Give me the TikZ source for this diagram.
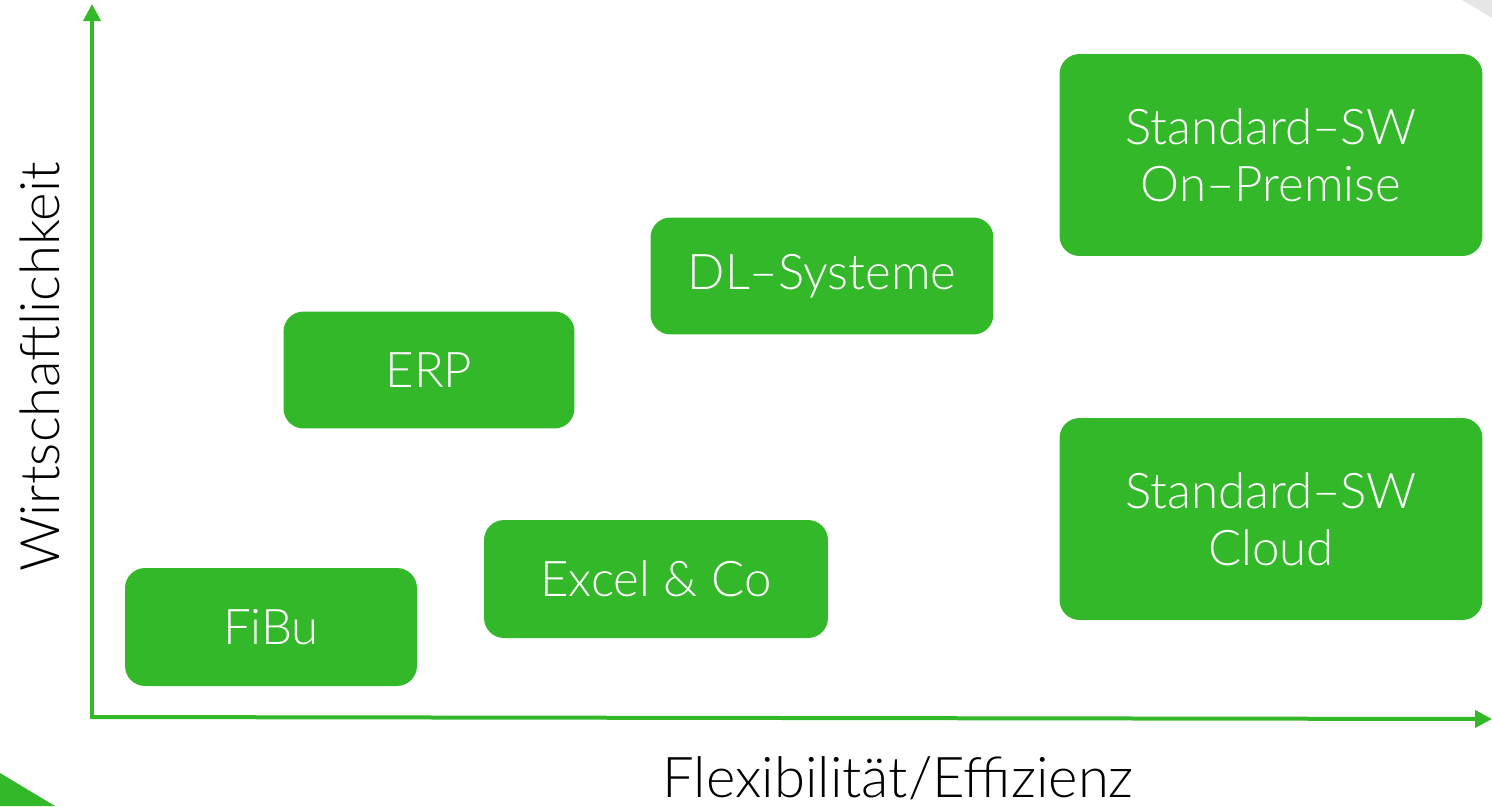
\documentclass[tikz,border=0pt]{standalone}
\usepackage{fontspec}
\setmainfont{Lato Light}
\usetikzlibrary{arrows.meta}
\definecolor{boxgreen}{HTML}{33B82A}
\definecolor{cornergray}{HTML}{E6E6E6}

\begin{document}
\begin{tikzpicture}[x=0.02cm, y=-0.02cm,
    box/.style={fill=boxgreen, text=white, rounded corners=0.4cm, align=center,
        inner sep=0pt, font=\fontsize{28}{32.5}\selectfont},
    axis/.style={draw=boxgreen, line width=0.08cm, -{Triangle[width=0.34cm, length=0.34cm]}},
    axislabel/.style={text=black, inner sep=0pt, font=\fontsize{31}{35}\selectfont}]

        \useasboundingbox (0,0) rectangle (1492,806);

        % corner decorations
        \fill[cornergray] (1462,0) -- (1492,0) -- (1492,18) -- cycle;
        \fill[boxgreen] (0,773) -- (55,806) -- (0,806) -- cycle;

        % axes
        \coordinate (origin) at (92,717);
        \coordinate (ytop) at (92,4);
        \coordinate (xend) at (1492,719);
        \draw[axis] (origin) -- (ytop);
        \draw[axis] ([xshift=-0.04cm]origin) -- (xend);

        % axis labels
        \node[axislabel, rotate=90] (ylabel) at (40,367) {Wirtschaftlichkeit};
        \node[axislabel, anchor=base, font=\fontsize{32}{36}\selectfont] (xlabel) at (898,797) {Flexibilität/Effizienz};

        % boxes
        \node[box, minimum width=5.84cm, minimum height=2.36cm] (fibu) at (271,627) {FiBu};
        \node[box, minimum width=6.88cm, minimum height=2.36cm] (excel) at (656,579) {Excel \& Co};
        \node[box, minimum width=5.82cm, minimum height=2.34cm] (erp) at (429,370) {ERP};
        \node[box, minimum width=6.86cm, minimum height=2.34cm] (dl) at (822,276) {DL–Systeme};
        \node[box, minimum width=8.46cm, minimum height=4.04cm] (onprem) at (1271,155) {Standard–SW\\On–Premise};
        \node[box, minimum width=8.46cm, minimum height=4.04cm] (cloud) at (1271,519) {Standard–SW\\Cloud};
    \end{tikzpicture}
\end{document}
